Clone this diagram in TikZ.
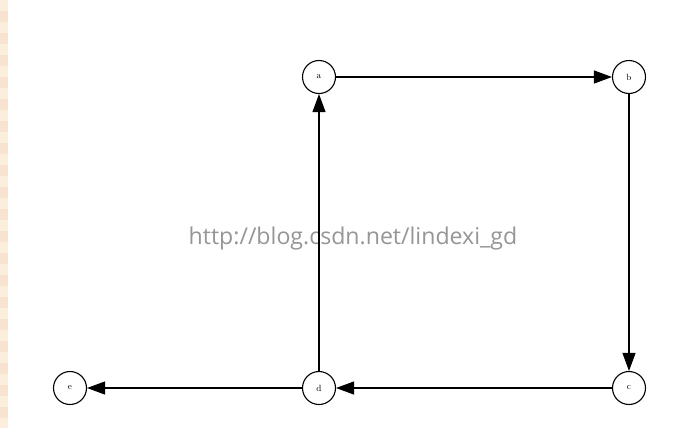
\documentclass[tikz,border=0pt]{standalone}
\usepackage{fontspec}
\newfontfamily\wmfont{Open Sans}
\usetikzlibrary{arrows.meta}
\definecolor{stripeA}{RGB}{251,238,220}
\definecolor{stripeB}{RGB}{248,226,208}
\definecolor{wmgray}{RGB}{150,150,150}
\tikzset{
  vertex/.style={circle,draw=black,line width=1.1bp,minimum size=33bp,inner sep=0pt,font=\fontsize{9}{10}\selectfont,fill=white},
  edge/.style={line width=1.1bp,-{Triangle[length=18bp,width=13bp]}}
}
\begin{document}
\begin{tikzpicture}[x=1bp,y=-1bp]
\useasboundingbox (0,0) rectangle (681,427);
\fill[white] (0,0) rectangle (681,427);
\foreach \i in {0,...,19}{
  \pgfmathsetmacro{\ya}{\i*22}
  \fill[stripeA] (0,\ya) rectangle (8,\ya+11);
  \fill[stripeB] (0,\ya+11) rectangle (8,\ya+22);
}
\node[font=\wmfont\fontsize{23.2}{25}\selectfont,text=wmgray] (wm) at (353,238) {http://blog.csdn.net/lindexi\_gd};
\node[vertex] (a) at (319,77) {a};
\node[vertex] (b) at (629,77) {b};
\node[vertex] (c) at (629,388) {c};
\node[vertex] (d) at (319,388) {d};
\node[vertex] (e) at (70,388) {e};
\draw[edge] (a) -- (b);
\draw[edge] (b) -- (c);
\draw[edge] (c) -- (d);
\draw[edge] (d) -- (a);
\draw[edge] (d) -- (e);
\end{tikzpicture}
\end{document}
